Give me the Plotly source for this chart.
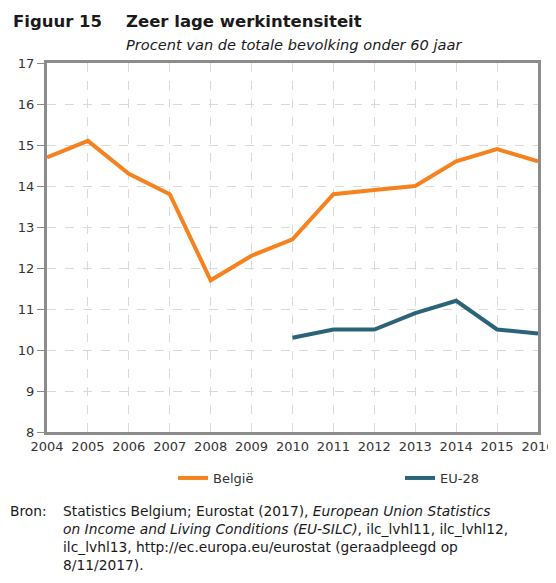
import plotly.graph_objects as go

years = list(range(2004, 2017))
belgie = [14.7, 15.1, 14.3, 13.8, 11.7, 12.3, 12.7, 13.8, 13.9, 14.0, 14.6, 14.9, 14.6]
eu_years = list(range(2010, 2017))
eu28 = [10.3, 10.5, 10.5, 10.9, 11.2, 10.5, 10.4]
y_ticks = list(range(8, 18))

FONT = "DejaVu Sans"
ORANGE = "#F5821F"
TEAL = "#2B6479"
GRID = "#D9D9D9"
AXIS = "#8C8C8C"
PW, PH = 491, 369
L0, T0 = 47, 63  # plot area origin in page pixels

def px(x):
    return (x - L0) / PW

def py(y):
    return 1 - (y - T0) / PH

fig = go.Figure()
fig.add_trace(go.Scatter(x=years, y=belgie, mode="lines", name="België",
                         line=dict(color=ORANGE, width=4)))
fig.add_trace(go.Scatter(x=eu_years, y=eu28, mode="lines", name="EU-28",
                         line=dict(color=TEAL, width=4)))

fig.update_layout(
    width=548, height=567,
    margin=dict(l=39, r=18, t=55, b=143, autoexpand=False),
    paper_bgcolor="white", plot_bgcolor="white",
    font=dict(family=FONT, size=13, color="#333333"),
    showlegend=True,
    legend=dict(orientation="h", x=px(173), xanchor="left", y=py(463), yanchor="top",
                entrywidth=182, entrywidthmode="pixels",
                font=dict(family=FONT, size=13, color="#333333")),
)
fig.update_xaxes(range=[2004, 2016], tickvals=years, ticktext=[str(y) for y in years],
                 showgrid=True, gridcolor=GRID, griddash="dash", gridwidth=1,
                 showline=True, linecolor=AXIS, linewidth=3, mirror=True, automargin=False,
                 ticks="", tickfont=dict(size=13, color="#333333"), zeroline=False)
fig.update_yaxes(range=[8, 17], tickvals=y_ticks,
                 showgrid=True, gridcolor=GRID, griddash="dash", gridwidth=1,
                 showline=True, linecolor=AXIS, linewidth=3, mirror=True, automargin=False,
                 ticks="outside", ticklen=7, tickcolor=AXIS, tickwidth=1,
                 tickfont=dict(size=13, color="#333333"), zeroline=False)

fig.add_annotation(xref="paper", yref="paper", x=px(11), y=py(22), xanchor="left", yanchor="middle",
                   text="<b>Figuur 15</b>", showarrow=False,
                   font=dict(family=FONT, size=16.5, color="#1a1a1a"))
fig.add_annotation(xref="paper", yref="paper", x=px(124), y=py(22), xanchor="left", yanchor="middle",
                   text="<b>Zeer lage werkintensiteit</b>", showarrow=False,
                   font=dict(family=FONT, size=16.5, color="#1a1a1a"))
fig.add_annotation(xref="paper", yref="paper", x=px(124), y=py(44), xanchor="left", yanchor="middle",
                   text="<i>Procent van de totale bevolking onder 60 jaar</i>", showarrow=False,
                   font=dict(family=FONT, size=14.6, color="#1a1a1a"))

fig.add_annotation(xref="paper", yref="paper", x=px(8), y=py(501), xanchor="left", yanchor="top",
                   text="Bron:", showarrow=False, align="left",
                   font=dict(family=FONT, size=13.8, color="#1a1a1a"))
fig.add_annotation(xref="paper", yref="paper", x=px(61), y=py(501), xanchor="left", yanchor="top",
                   text=("Statistics Belgium; Eurostat (2017), <i>European Union Statistics</i><br>"
                         "<i>on Income and Living Conditions (EU-SILC)</i>, ilc_lvhl11, ilc_lvhl12,<br>"
                         "ilc_lvhl13, http://ec.europa.eu/eurostat (geraadpleegd op<br>"
                         "8/11/2017)."),
                   showarrow=False, align="left",
                   font=dict(family=FONT, size=13.8, color="#1a1a1a"))

fig.write_html("out.html")
